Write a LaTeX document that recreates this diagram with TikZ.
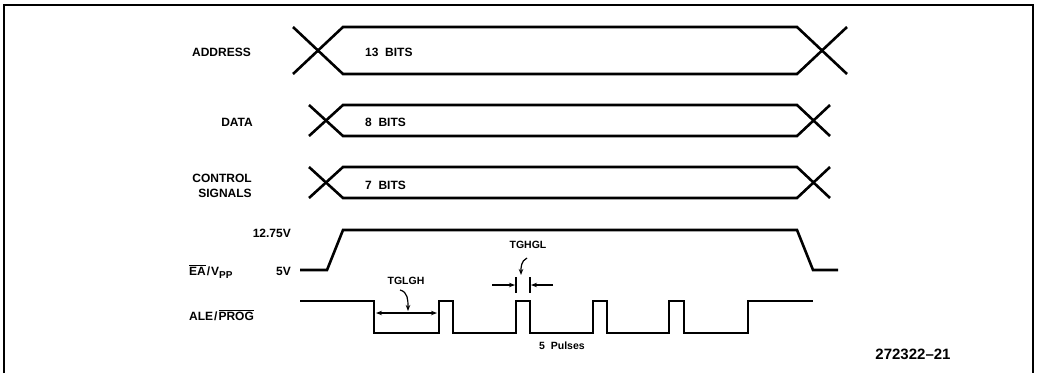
\documentclass[tikz,border=0pt]{standalone}
\usepackage{fontspec}
\setmainfont{Liberation Sans}[WordSpace=2]
\usetikzlibrary{arrows.meta}
\begin{document}
\begin{tikzpicture}[x=1pt,y=-1pt,line join=miter]
\tikzset{
  lbl/.style={font=\bfseries\fontsize{12}{14}\selectfont,inner sep=0pt},
  small/.style={font=\bfseries\fontsize{10.5}{12}\selectfont,inner sep=0pt},
  big/.style={font=\bfseries\fontsize{15}{17}\selectfont,inner sep=0pt},
  sig/.style={line width=2.6pt},
  frame/.style={line width=1.5pt},
  dim/.style={line width=1.2pt},
  tip/.style={-{Stealth[length=6pt,width=4.5pt]}},
  tips/.style={{Stealth[length=6pt,width=4.5pt]}-{Stealth[length=6pt,width=4.5pt]}},
}
\useasboundingbox (0,0) rectangle (1038,373);
% frame
\draw[frame] (4,373) -- (4,5) -- (1033,5) -- (1033,373);

% labels
\node[lbl,anchor=base east] (laddr) at (251,56) {ADDRESS};
\node[lbl,anchor=base east] (ldata) at (253,126) {DATA};
\node[lbl,anchor=base] (lctrl) at (222,182) {CONTROL};
\node[lbl,anchor=base] (lsig) at (225,197) {SIGNALS};
\node[lbl,anchor=base east] (lhv) at (291,237) {12.75V};
\node[lbl,anchor=base east] (llv) at (291,275) {5V};
\node[lbl,anchor=base west] (lea) at (189,275) {$\overline{\mbox{EA}}$\kern1pt/\kern1ptV\raisebox{-3pt}{\fontsize{10}{10}\selectfont PP}};
\node[lbl,anchor=base west] (lale) at (189,320) {ALE\kern1pt/\kern1pt$\overline{\mbox{PROG}}$};

% bus contents
\node[lbl,anchor=base west] (b13) at (365,56) {13 BITS};
\node[lbl,anchor=base west] (b8) at (365,126) {8 BITS};
\node[lbl,anchor=base west] (b7) at (365,189) {7 BITS};

% ADDRESS bus
\draw[sig] (293,74) -- (343,27) -- (797,27) -- (847,74);
\draw[sig] (293,27) -- (343,74) -- (797,74) -- (847,27);
% DATA bus
\draw[sig] (309,136) -- (343,105) -- (797,105) -- (830,136);
\draw[sig] (309,105) -- (343,136) -- (797,136) -- (830,105);
% CONTROL bus
\draw[sig] (309,198) -- (343,167) -- (797,167) -- (830,198);
\draw[sig] (309,167) -- (343,198) -- (797,198) -- (830,167);

% EA/VPP
\draw[sig] (300,270) -- (327,270) -- (343,230) -- (797,230) -- (813,270) -- (838,270);

% ALE/PROG
\draw[sig] (300,301) -- (374,301) -- (374,333) -- (439,333) -- (439,301) -- (453,301) -- (453,333)
  -- (516,333) -- (516,301) -- (530,301) -- (530,333) -- (593,333) -- (593,301) -- (607,301) -- (607,333)
  -- (669,333) -- (669,301) -- (684,301) -- (684,333) -- (748,333) -- (748,301) -- (813,301);

% TGLGH
\node[small,anchor=base] (tglgh) at (406,284) {TGLGH};
\coordinate (g1) at (376,313);
\coordinate (g2) at (437,313);
\coordinate (g3) at (400,290);
\coordinate (g4) at (408,311);
\draw[dim,tips] (g1) -- (g2);
\draw[dim,tip] (g3) .. controls (408,292) and (408,300) .. (g4);

% TGHGL
\node[small,anchor=base] (tghgl) at (528,248) {TGHGL};
\coordinate (h1) at (516,277);
\coordinate (h1b) at (516,293);
\coordinate (h2) at (530,277);
\coordinate (h2b) at (530,293);
\coordinate (h3) at (492,285);
\coordinate (h3e) at (515,285);
\coordinate (h4) at (553,285);
\coordinate (h4e) at (531,285);
\coordinate (h5) at (527,258);
\coordinate (h6) at (521,275);
\draw[dim] (h1) -- (h1b);
\draw[dim] (h2) -- (h2b);
\draw[dim,tip] (h3) -- (h3e);
\draw[dim,tip] (h4) -- (h4e);
\draw[dim,tip] (h5) .. controls (521,261) and (521,267) .. (h6);

% 5 pulses
\node[small,anchor=base] (pulses) at (562,349) {5 Pulses};

% figure number
\node[big,anchor=base] (fig) at (913,359) {272322--21};
\end{tikzpicture}
\end{document}
